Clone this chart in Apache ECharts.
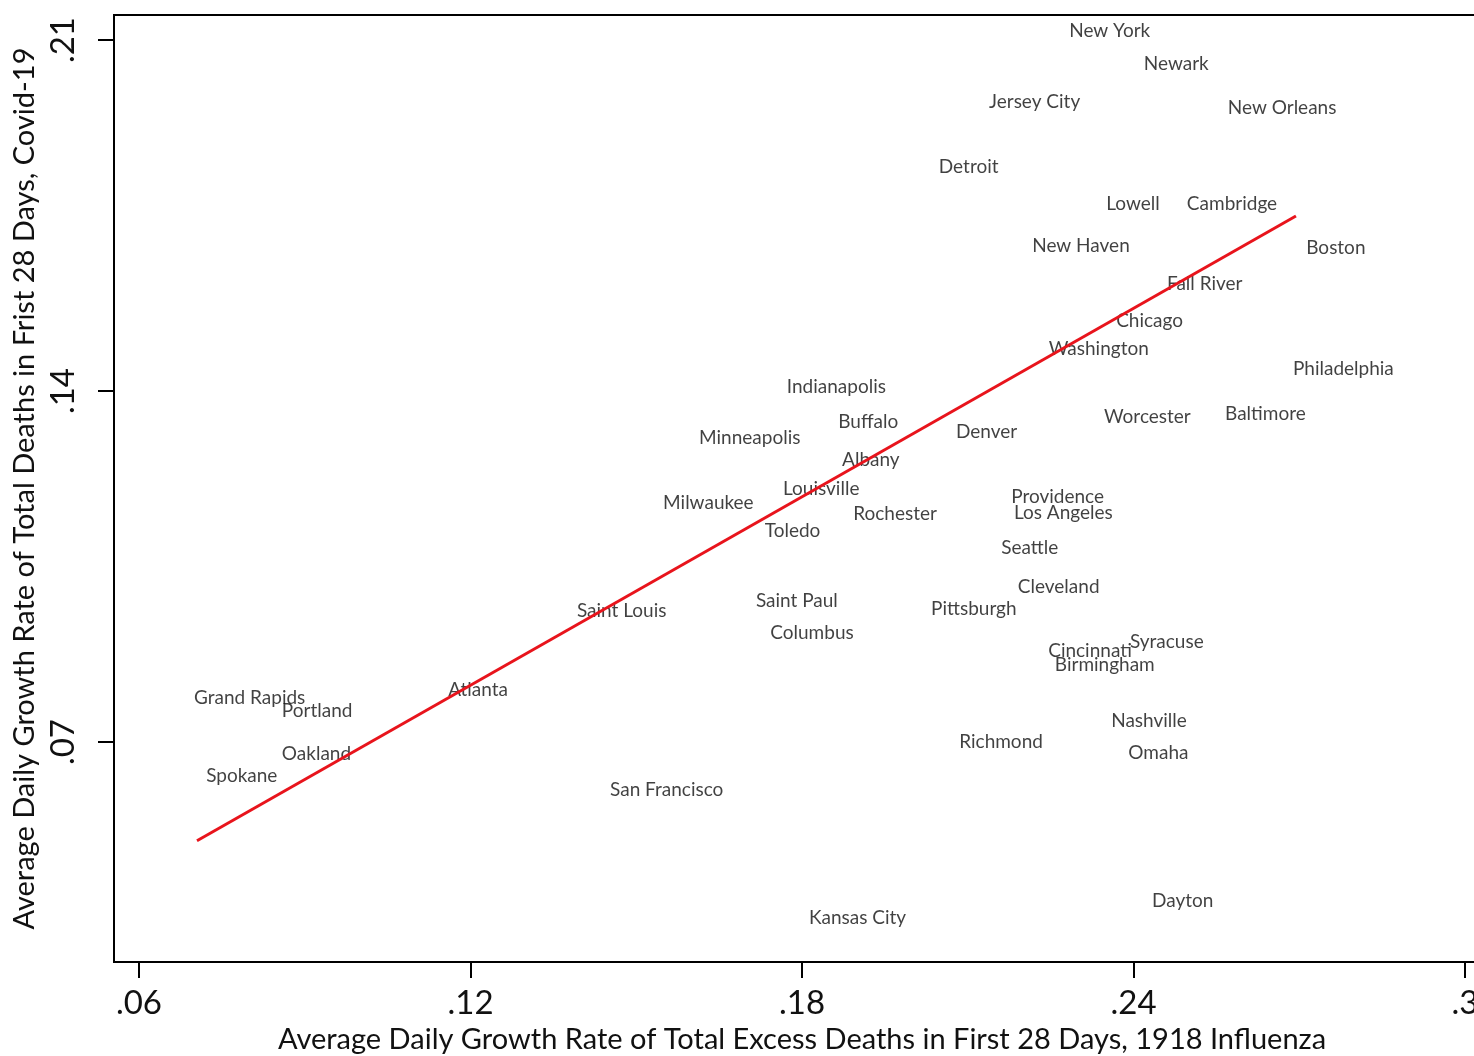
<!DOCTYPE html>
<html>
<head>
<meta charset="utf-8">
<title>1918 Influenza vs Covid-19 growth rates</title>
<script src="https://cdn.jsdelivr.net/npm/echarts@6/dist/echarts.min.js"></script>
<style>
  html, body { margin: 0; padding: 0; background: #fff; }
  #chart { width: 1474px; height: 1056px; }
</style>
</head>
<body>
<div id="chart"></div>
<script>
// City names
const cities = [
  'New York', 'Newark', 'Jersey City', 'New Orleans', 'Detroit', 'Lowell',
  'Cambridge', 'New Haven', 'Boston', 'Fall River', 'Chicago', 'Washington',
  'Philadelphia', 'Indianapolis', 'Worcester', 'Baltimore', 'Buffalo',
  'Minneapolis', 'Denver', 'Albany', 'Louisville', 'Providence', 'Milwaukee',
  'Rochester', 'Los Angeles', 'Toledo', 'Seattle', 'Cleveland', 'Saint Paul',
  'Pittsburgh', 'Saint Louis', 'Columbus', 'Syracuse', 'Cincinnati',
  'Birmingham', 'Atlanta', 'Grand Rapids', 'Portland', 'Nashville',
  'Richmond', 'Oakland', 'Omaha', 'Spokane', 'San Francisco', 'Dayton',
  'Kansas City'
];

// Average daily growth rate of total excess deaths, first 28 days, 1918 influenza
const flu1918 = [
  0.2289, 0.2424, 0.2144, 0.2576, 0.2053, 0.2356,
  0.2502, 0.2222, 0.2718, 0.2466, 0.2374, 0.2252,
  0.2694, 0.1778, 0.2352, 0.2571, 0.1871,
  0.1619, 0.2084, 0.1878, 0.1771, 0.2184, 0.1554,
  0.1898, 0.2189, 0.1738, 0.2166, 0.2196, 0.1722,
  0.2039, 0.1398, 0.1748, 0.2399, 0.2251,
  0.2263, 0.1165, 0.0705, 0.0864, 0.2365,
  0.2090, 0.0864, 0.2396, 0.0727, 0.1458, 0.2439,
  0.1818
];

// Average daily growth rate of total deaths, first 28 days, Covid-19
const covid19 = [
  0.2118, 0.2052, 0.1976, 0.1964, 0.1847, 0.1773,
  0.1773, 0.1689, 0.1685, 0.1613, 0.1540, 0.1484,
  0.1444, 0.1408, 0.1348, 0.1354, 0.1338,
  0.1306, 0.1318, 0.1262, 0.1205, 0.1189, 0.1177,
  0.1155, 0.1157, 0.1121, 0.1087, 0.1009, 0.0981,
  0.0965, 0.0961, 0.0917, 0.0899, 0.0881,
  0.0854, 0.0804, 0.0788, 0.0762, 0.0742,
  0.0700, 0.0676, 0.0678, 0.0632, 0.0604, 0.0383,
  0.0349
];

// Linear fit endpoints (x, y) spanning the observed flu range
const fitLine = [
  [0.0705, 0.0503],
  [0.2694, 0.1749]
];

// Tick values
const xTicks = [0.06, 0.12, 0.18, 0.24, 0.3];
const yTicks = [0.07, 0.14, 0.21];

const FONT = 'Lato, "Open Sans", sans-serif';

const points = cities.map((name, i) => ({ name: name, value: [flu1918[i], covid19[i]] }));
const dropLeadingZero = v => String(v).replace(/^0\./, '.');

const chart = echarts.init(document.getElementById('chart'), null, { renderer: 'canvas' });

chart.setOption({
  animation: false,
  backgroundColor: '#ffffff',
  grid: {
    left: 114,
    top: 15,
    width: 1376,
    height: 947,
    outerBoundsMode: 'none',
    containLabel: false,
    show: true,
    borderColor: '#000',
    borderWidth: 2,
    backgroundColor: 'transparent'
  },
  xAxis: {
    type: 'value',
    min: 0.05548,
    max: 0.30452,
    name: 'Average Daily Growth Rate of Total Excess Deaths in First 28 Days, 1918 Influenza',
    nameLocation: 'middle',
    nameGap: 62,
    nameTextStyle: { fontFamily: FONT, fontSize: 29, color: '#111' },
    splitLine: { show: false },
    axisLine: { show: false },
    axisTick: {
      show: true,
      inside: false,
      length: 16,
      customValues: xTicks,
      lineStyle: { color: '#000', width: 2 }
    },
    axisLabel: {
      customValues: xTicks,
      formatter: dropLeadingZero,
      margin: 25,
      fontFamily: FONT,
      fontSize: 33,
      color: '#111'
    }
  },
  yAxis: {
    type: 'value',
    min: 0.02613,
    max: 0.21499,
    name: 'Average Daily Growth Rate of Total Deaths in Frist 28 Days, Covid-19',
    nameLocation: 'middle',
    nameGap: 72,
    nameRotate: 90,
    nameTextStyle: { fontFamily: FONT, fontSize: 29, color: '#111' },
    splitLine: { show: false },
    axisLine: { show: false },
    axisTick: {
      show: true,
      inside: false,
      length: 16,
      customValues: yTicks,
      lineStyle: { color: '#000', width: 2 }
    },
    axisLabel: {
      customValues: yTicks,
      formatter: dropLeadingZero,
      rotate: 90,
      margin: 34,
      fontFamily: FONT,
      fontSize: 33,
      color: '#111'
    }
  },
  series: [
    {
      type: 'scatter',
      data: points,
      symbolSize: 0,
      z: 2,
      silent: true,
      label: {
        show: true,
        position: [-3, 0],
        align: 'left',
        verticalAlign: 'middle',
        formatter: p => p.name,
        fontFamily: FONT,
        fontSize: 19,
        color: '#111'
      },
      labelLayout: { hideOverlap: false }
    },
    {
      type: 'line',
      data: fitLine,
      showSymbol: false,
      z: 3,
      silent: true,
      lineStyle: { color: '#e8141c', width: 3 }
    }
  ]
});
</script>
</body>
</html>
